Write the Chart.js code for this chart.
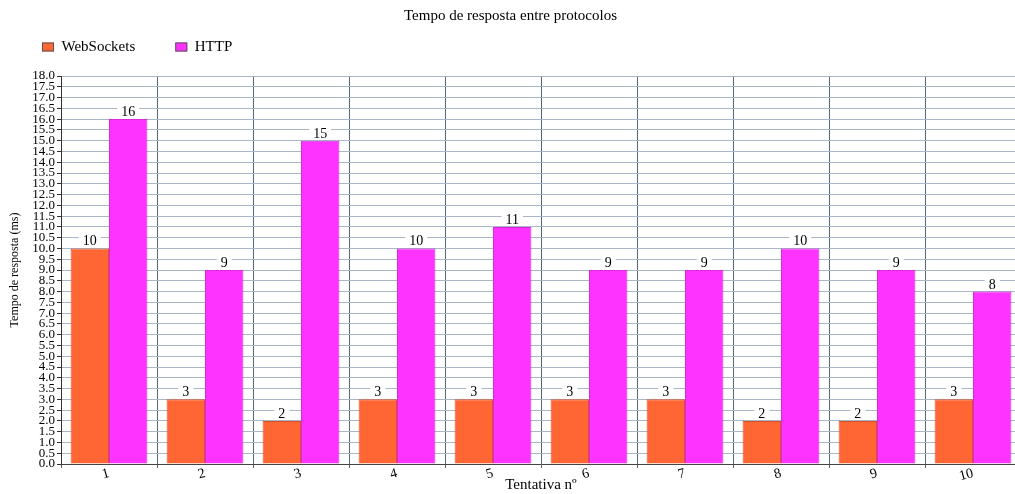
<!DOCTYPE html>
<html lang="pt">
<head>
<meta charset="UTF-8">
<title>Tempo de resposta entre protocolos</title>
<script src="https://cdn.jsdelivr.net/npm/chart.js"></script>
<style>
  html, body { margin: 0; padding: 0; background: #fff; overflow: hidden; }
  .chart-wrapper { width: 1030px; height: 494px; }
</style>
</head>
<body>
<div class="chart-wrapper"><canvas id="chart"></canvas></div>
<script>
const tentativas = ['1', '2', '3', '4', '5', '6', '7', '8', '9', '10'];
const websockets = [10, 3, 2, 3, 3, 3, 3, 2, 2, 3];
const http = [16, 9, 15, 10, 11, 9, 9, 10, 9, 8];

const serif = "'Liberation Serif', 'Times New Roman', serif";

// number on top of each bar, on a small white box
const barLabels = {
  id: 'barLabels',
  afterDatasetsDraw(chart) {
    const ctx = chart.ctx;
    ctx.save();
    ctx.font = '14px ' + serif;
    ctx.textAlign = 'center';
    ctx.textBaseline = 'alphabetic';
    chart.data.datasets.forEach((ds, i) => {
      chart.getDatasetMeta(i).data.forEach((bar, j) => {
        const txt = String(ds.data[j]);
        const w = ctx.measureText(txt).width + 8;
        ctx.fillStyle = '#fff';
        ctx.fillRect(bar.x - w / 2, bar.y - 15, w, 14);
        ctx.fillStyle = '#000';
        ctx.fillText(txt, bar.x, bar.y - 3);
      });
    });
    ctx.restore();
  }
};

// legend row under the title, left aligned
const legendRow = {
  id: 'legendRow',
  afterDraw(chart) {
    const ctx = chart.ctx;
    ctx.save();
    ctx.font = '15px ' + serif;
    ctx.textBaseline = 'middle';
    let x = 42;
    const y = 47;
    chart.data.datasets.forEach(ds => {
      ctx.fillStyle = ds.backgroundColor;
      ctx.fillRect(x, y - 4.5, 12, 9);
      ctx.strokeStyle = '#555';
      ctx.lineWidth = 1;
      ctx.strokeRect(x + 0.5, y - 4, 11, 8);
      ctx.fillStyle = '#000';
      ctx.fillText(ds.label, x + 19.5, y);
      x += 19.5 + ctx.measureText(ds.label).width + 40;
    });
    ctx.restore();
  }
};

new Chart(document.getElementById('chart'), {
  type: 'bar',
  data: {
    labels: tentativas,
    datasets: [
      {
        label: 'WebSockets',
        data: websockets,
        backgroundColor: '#FF6633',
        borderColor: '#D9532A',
        borderWidth: 1
      },
      {
        label: 'HTTP',
        data: http,
        backgroundColor: '#FF33FF',
        borderColor: '#D92AD9',
        borderWidth: 1
      }
    ]
  },
  options: {
    responsive: true,
    maintainAspectRatio: false,
    animation: false,
    layout: { padding: { left: 0, right: 9, top: 0, bottom: 0 } },
    datasets: { bar: { categoryPercentage: 0.8, barPercentage: 1.0 } },
    plugins: {
      legend: { display: false },
      tooltip: { enabled: false },
      title: {
        display: true,
        text: 'Tempo de resposta entre protocolos',
        color: '#000',
        font: { family: serif, size: 15, weight: 'normal' },
        padding: { top: 7, bottom: 51 }
      }
    },
    scales: {
      x: {
        grid: { offset: true, color: '#56667c', tickLength: 4 },
        border: { color: '#444' },
        ticks: {
          color: '#000',
          font: { family: serif, size: 14 },
          minRotation: 15,
          maxRotation: 15,
          padding: -3
        },
        title: {
          display: true,
          text: 'Tentativa nº',
          color: '#000',
          font: { family: serif, size: 15 },
          padding: 0
        },
        afterFit(scale) { scale.height = 30; }
      },
      y: {
        min: 0,
        max: 18,
        ticks: {
          stepSize: 0.5,
          autoSkip: false,
          color: '#000',
          font: { family: serif, size: 13 },
          padding: 2,
          callback: v => v.toFixed(1)
        },
        grid: { color: '#a8b6c8', tickLength: 4, tickColor: '#333' },
        border: { color: '#333' },
        title: {
          display: true,
          text: 'Tempo de resposta (ms)',
          color: '#000',
          font: { family: serif, size: 12 },
          padding: { top: 8 }
        },
        afterFit(scale) { scale.width = 61; }
      }
    }
  },
  plugins: [barLabels, legendRow]
});
</script>
</body>
</html>
